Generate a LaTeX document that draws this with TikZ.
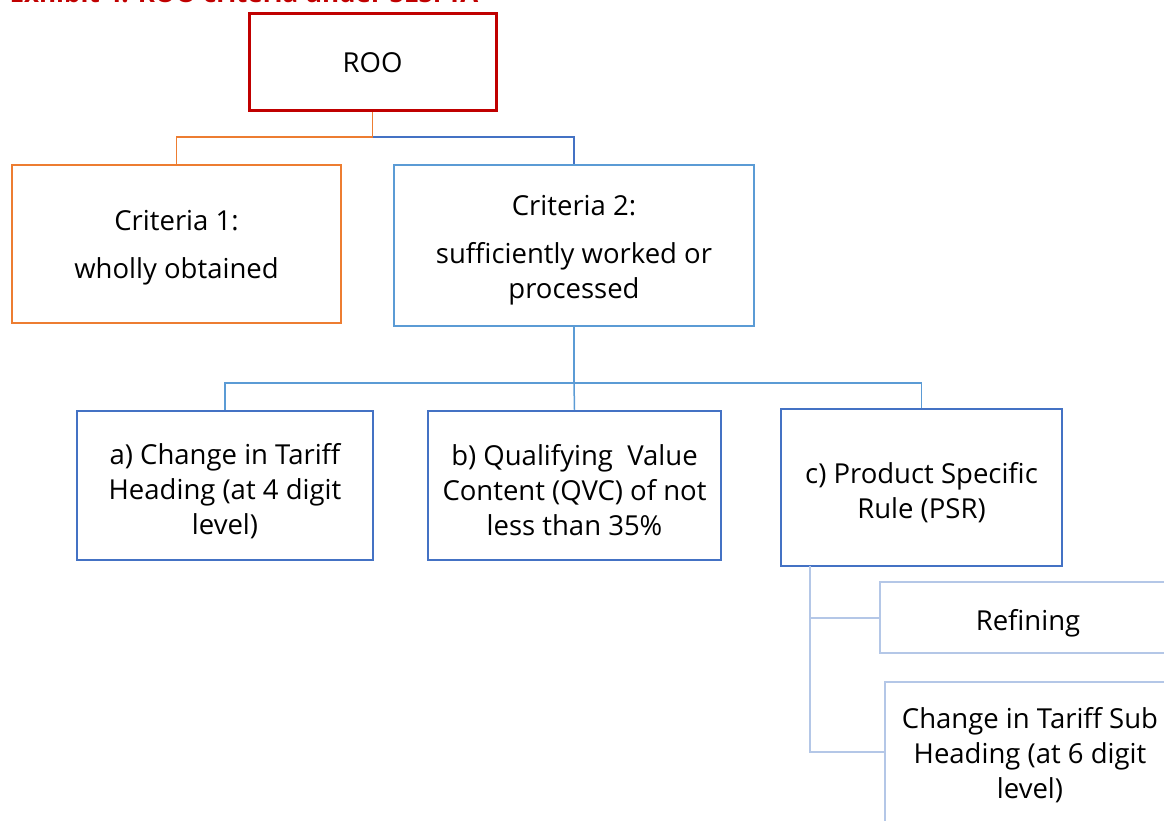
\documentclass[tikz,border=0pt]{standalone}
\usepackage{fontspec}
\setmainfont{Open Sans}
\definecolor{roored}{HTML}{C00000}
\definecolor{orng}{HTML}{ED7D31}
\definecolor{lblue}{HTML}{5B9BD5}
\definecolor{dblue}{HTML}{4472C4}
\definecolor{pblue}{HTML}{B4C7E7}
\begin{document}
\begin{tikzpicture}[x=1pt,y=1pt,
  box/.style={draw,rectangle,align=center,inner sep=0pt,text depth=0pt,font=\fontsize{27.5}{35}\selectfont},
  conn/.style={line width=1.5pt}]
\useasboundingbox (0,0) rectangle (1164,-821);
\clip (0,0) rectangle (1164,-821);
\node[anchor=base west,text=roored,font=\bfseries\fontsize{26}{30}\selectfont] (title) at (6,-2.5) {Exhibit 4: ROO criteria under SLSFTA};
\node[box,text height=20.6pt,draw=roored,line width=3pt,minimum width=247,minimum height=97] (roo) at (372.5,-62.5) {ROO};
\node[box,text height=68.6pt,draw=orng,line width=2.5pt,minimum width=329,minimum height=158] (c1) at (176.5,-244) {Criteria 1:\\[12.6pt]wholly obtained};
\node[box,text height=105.6pt,draw=lblue,line width=2.5pt,minimum width=360,minimum height=161] (c2) at (574,-245.5) {Criteria 2:\\[12.6pt]sufficiently worked or\\processed};
\node[box,text height=97.4pt,draw=dblue,line width=2.5pt,minimum width=296,minimum height=149] (a) at (225,-485.5) {a) Change in Tariff\\Heading (at 4 digit\\level)};
\node[box,text height=100pt,draw=dblue,line width=2.5pt,minimum width=293,minimum height=149] (b) at (574.5,-485.5) {b) Qualifying~ Value\\Content (QVC) of not\\less than 35\%};
\node[box,text height=61pt,draw=dblue,line width=2.5pt,minimum width=281,minimum height=157] (c) at (921.5,-487.5) {c) Product Specific\\Rule (PSR)};
\node[box,text height=25pt,draw=pblue,line width=2pt,minimum width=296,minimum height=71] (ref) at (1028,-617.5) {Refining};
\node[box,text height=92.6pt,draw=pblue,line width=2pt,minimum width=290,minimum height=140] (cts) at (1030,-752) {Change in Tariff Sub\\Heading (at 6 digit\\level)};
\coordinate (j1) at (372.5,-137);
\coordinate (j2) at (574,-383);
\coordinate (k0) at (810,-566);
\draw[conn,draw=orng] (roo.south) -- (j1) -| (c1.north);
\draw[conn,draw=dblue] (j1) -| (c2.north);
\draw[conn,draw=lblue] (c2.south) -- (j2);
\draw[conn,draw=lblue] (j2) -| (a.north);
\draw[conn,draw=lblue] (j2) -- (b.north);
\draw[conn,draw=lblue] (j2) -| (c.north);
\draw[line width=2pt,draw=pblue] (k0) |- (ref.west);
\draw[line width=2pt,draw=pblue] (k0) |- (cts.west);
\end{tikzpicture}
\end{document}
